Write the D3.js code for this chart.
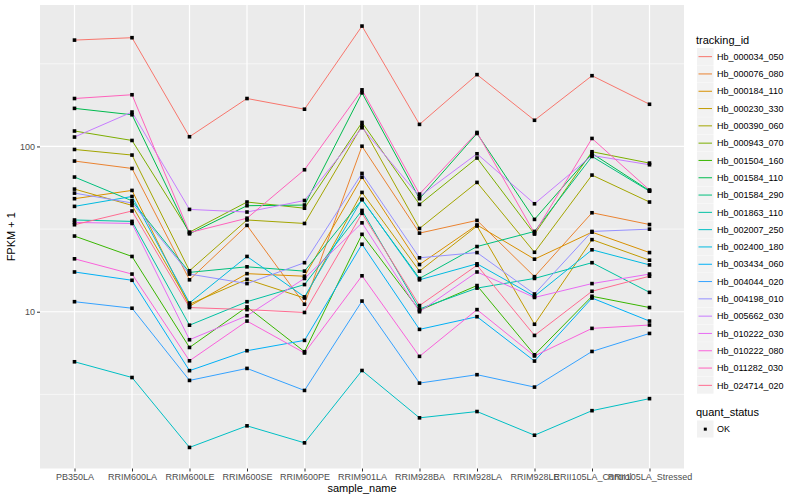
<!DOCTYPE html>
<html>
<head>
<meta charset="utf-8">
<script src="https://cdn.jsdelivr.net/npm/d3@7"></script>
<style>
  body { margin: 0; background: #fff; }
  text { font-family: "Liberation Sans", Arial, sans-serif; }
</style>
</head>
<body>
<script>
// samples on the x axis
const samples = ['PB350LA', 'RRIM600LA', 'RRIM600LE', 'RRIM600SE', 'RRIM600PE', 'RRIM901LA',
  'RRIM928BA', 'RRIM928LA', 'RRIM928LE', 'RRII105LA_Control', 'RRII105LA_Stressed']

// genes, in legend order
const trackingIds = ['Hb_000034_050', 'Hb_000076_080', 'Hb_000184_110', 'Hb_000230_330', 'Hb_000390_060',
  'Hb_000943_070', 'Hb_001504_160', 'Hb_001584_110', 'Hb_001584_290', 'Hb_001863_110',
  'Hb_002007_250', 'Hb_002400_180', 'Hb_003434_060', 'Hb_004044_020', 'Hb_004198_010',
  'Hb_005662_030', 'Hb_010222_030', 'Hb_010222_080', 'Hb_011282_030', 'Hb_024714_020']

// default ggplot hue palette for 20 groups
const palette = ['#F8766D', '#EA8331', '#D89000', '#C09B00', '#A3A500', '#7CAE00', '#39B600', '#00BB4E',
  '#00BF7D', '#00C1A3', '#00BFC4', '#00BAE0', '#00B0F6', '#35A2FF', '#9590FF', '#C77CFF',
  '#E76BF3', '#FA62DB', '#FF62BC', '#FF6C91']

// FPKM + 1, one row per tracking id (same order), one value per sample
const fpkmPlus1 = [
  [440, 455, 114.5, 195, 168, 535, 136, 272, 144, 268, 180],        // 000034_050
  [81.6, 73.6, 15.6, 33.3, 11.1, 100.3, 29.9, 35.7, 16.3, 39.7, 33.7], // 000076_080
  [48.3, 54.2, 10.8, 17.0, 16.4, 65.1, 19.3, 33.5, 20.8, 30.3, 22.8],  // 000184_110
  [55.2, 44.0, 11.1, 15.7, 12.1, 52.7, 17.6, 33.0, 8.4, 27.3, 20.5],   // 000230_330
  [95.9, 88.7, 17.7, 35.9, 34.2, 133.4, 31.9, 60.6, 22.9, 67.1, 46.1], // 000390_060
  [124, 108.7, 30.3, 46.1, 42.3, 139.7, 44.6, 85.1, 29.5, 92.9, 79.3], // 000943_070
  [28.7, 21.6, 6.08, 10.7, 5.73, 29.4, 10.2, 14.4, 5.49, 12.4, 10.6],  // 001504_160
  [170, 155.5, 29.6, 43.8, 44.2, 211, 48.3, 119.8, 36.2, 90.7, 54.0],  // 001584_110
  [65.3, 46.9, 17.3, 18.7, 17.6, 47.6, 15.9, 24.8, 30.6, 87.0, 53.6],  // 001584_290
  [35.9, 35.2, 8.29, 11.5, 14.6, 41.0, 10.4, 13.9, 15.9, 19.8, 13.1],  // 001863_110
  [4.98, 4.00, 1.51, 2.04, 1.61, 4.41, 2.28, 2.49, 1.79, 2.52, 2.98],  // 002007_250
  [43.4, 49.8, 11.3, 21.6, 12.3, 47.9, 15.6, 19.5, 12.4, 23.7, 19.2],  // 002400_180
  [17.4, 15.5, 4.40, 5.81, 6.71, 25.6, 7.82, 9.33, 5.03, 12.1, 8.78],  // 003434_060
  [11.5, 10.5, 3.84, 4.54, 3.34, 11.6, 3.70, 4.16, 3.50, 5.75, 7.39],  // 004044_020
  [52.2, 45.5, 16.9, 14.8, 19.8, 68.7, 21.2, 22.8, 12.8, 30.6, 31.6],  // 004198_010
  [114, 161.5, 41.6, 40.1, 47.1, 129.8, 49.8, 90.3, 45.0, 88.2, 77.5], // 005662_030
  [34.7, 34.2, 6.77, 9.46, 15.9, 34.5, 10.0, 17.4, 12.2, 14.8, 16.9],  // 010222_030
  [20.9, 16.9, 5.05, 8.78, 5.63, 16.5, 5.37, 10.3, 5.40, 7.93, 8.31],  // 010222_080
  [195, 205.5, 30.1, 36.8, 72.3, 220, 51.5, 121.5, 29.9, 111.8, 54.5], // 011282_030
  [33.6, 40.7, 10.6, 10.3, 9.9, 39.4, 10.9, 19.1, 7.19, 13.3, 16.4]    // 024714_020
]

const quantStatus = ['OK']
const yMajor = [10, 100]

const W = 800, H = 500
const panel = { left: 40, right: 684, top: 5, bottom: 468.5 }

const svg = d3.select('body').append('svg')
  .attr('width', W)
  .attr('height', H)

const series = trackingIds.map((id, i) => ({
  id: id,
  values: samples.map((s, j) => ({ sample: s, v: fpkmPlus1[i][j] }))
}))

const x = d3.scalePoint()
  .domain(samples)
  .range([panel.left, panel.right])
  .padding(0.6)

// ggplot-style 5% expansion on the log scale
const allV = fpkmPlus1.flat()
const lo = Math.log10(d3.min(allV)), hi = Math.log10(d3.max(allV))
const pad = (hi - lo) * 0.05
const y = d3.scaleLog()
  .domain([Math.pow(10, lo - pad), Math.pow(10, hi + pad)])
  .range([panel.bottom, panel.top])

const color = d3.scaleOrdinal().domain(trackingIds).range(palette)

//panel background
svg.append('rect')
  .attr('x', panel.left).attr('y', panel.top)
  .attr('width', panel.right - panel.left)
  .attr('height', panel.bottom - panel.top)
  .attr('fill', '#EBEBEB')

//minor gridlines half way between decades
const yMinor = [Math.pow(10, 0.5), Math.pow(10, 1.5), Math.pow(10, 2.5)]
svg.append('g').selectAll('line')
  .data(yMinor)
  .enter().append('line')
    .attr('x1', panel.left).attr('x2', panel.right)
    .attr('y1', d => y(d)).attr('y2', d => y(d))
    .attr('stroke', '#fff')
    .attr('stroke-width', 0.6)

//major gridlines
svg.append('g').selectAll('line')
  .data(yMajor)
  .enter().append('line')
    .attr('x1', panel.left).attr('x2', panel.right)
    .attr('y1', d => y(d)).attr('y2', d => y(d))
    .attr('stroke', '#fff')
    .attr('stroke-width', 1.2)

svg.append('g').selectAll('line')
  .data(samples)
  .enter().append('line')
    .attr('x1', d => x(d)).attr('x2', d => x(d))
    .attr('y1', panel.top).attr('y2', panel.bottom)
    .attr('stroke', '#fff')
    .attr('stroke-width', 1.2)

//lines, one per gene
const line = d3.line()
  .x(d => x(d.sample))
  .y(d => y(d.v))

svg.append('g').selectAll('path')
  .data(series)
  .enter().append('path')
    .attr('d', d => line(d.values))
    .attr('fill', 'none')
    .attr('stroke', d => color(d.id))
    .attr('stroke-width', 1)

//points
svg.append('g').selectAll('rect')
  .data(series.flatMap(s => s.values))
  .enter().append('rect')
    .attr('x', d => x(d.sample) - 1.8)
    .attr('y', d => y(d.v) - 1.8)
    .attr('width', 3.6)
    .attr('height', 3.6)
    .attr('fill', '#000')

//axes
const xAxis = svg.append('g')
  .attr('transform', `translate(0,${panel.bottom})`)
  .call(d3.axisBottom(x).tickSize(3).tickPadding(2))
const yAxis = svg.append('g')
  .attr('transform', `translate(${panel.left},0)`)
  .call(d3.axisLeft(y).tickValues(yMajor).tickFormat(d3.format('d')).tickSize(3).tickPadding(2))

;[xAxis, yAxis].forEach(a => {
  a.select('.domain').remove()
  a.selectAll('.tick line').attr('stroke', '#333')
  a.selectAll('.tick text')
    .attr('fill', '#4D4D4D')
    .attr('font-size', '9px')
    .style('font-family', '"Liberation Sans", Arial, sans-serif')
})

svg.append('text')
  .attr('x', (panel.left + panel.right) / 2)
  .attr('y', 492)
  .attr('text-anchor', 'middle')
  .attr('font-size', '11px')
  .text('sample_name')

svg.append('text')
  .attr('transform', `translate(15,${(panel.top + panel.bottom) / 2}) rotate(-90)`)
  .attr('text-anchor', 'middle')
  .attr('font-size', '11px')
  .text('FPKM + 1')

//legend: tracking_id
const lg = svg.append('g').attr('transform', 'translate(696,0)')
lg.append('text')
  .attr('x', 0).attr('y', 44)
  .attr('font-size', '11px')
  .text('tracking_id')

const key = 17.3
const items = lg.selectAll('.item')
  .data(trackingIds)
  .enter().append('g')
    .attr('class', 'item')
    .attr('transform', (d, i) => `translate(1,${48 + i * key})`)
items.append('rect')
  .attr('width', 16.5).attr('height', key - 0.3)
  .attr('fill', '#F2F2F2')
items.append('line')
  .attr('x1', 1.5).attr('x2', 15)
  .attr('y1', key / 2).attr('y2', key / 2)
  .attr('stroke', d => color(d))
  .attr('stroke-width', 1)
items.append('text')
  .attr('x', 20).attr('y', key / 2 + 3.2)
  .attr('font-size', '9px')
  .text(d => d)

//legend: quant_status
lg.append('text')
  .attr('x', 0).attr('y', 416)
  .attr('font-size', '11px')
  .text('quant_status')

const qs = lg.selectAll('.qs')
  .data(quantStatus)
  .enter().append('g')
    .attr('class', 'qs')
    .attr('transform', (d, i) => `translate(1,${420.5 + i * key})`)
qs.append('rect')
  .attr('width', 16.5).attr('height', key - 0.3)
  .attr('fill', '#F2F2F2')
qs.append('rect')
  .attr('x', 6.8).attr('y', key / 2 - 1.5)
  .attr('width', 3).attr('height', 3)
  .attr('fill', '#000')
qs.append('text')
  .attr('x', 20).attr('y', key / 2 + 3.2)
  .attr('font-size', '9px')
  .text(d => d)
</script>
</body>
</html>
